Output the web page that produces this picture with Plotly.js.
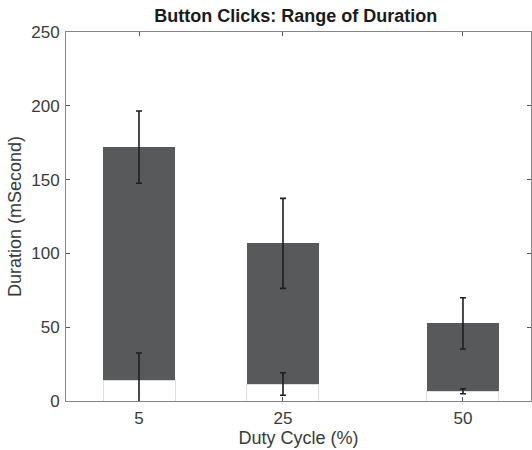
<!DOCTYPE html>
<html>
<head>
<meta charset="utf-8">
<script src="https://cdn.plot.ly/plotly-3.0.1.min.js"></script>
<style>html,body{margin:0;padding:0;background:#fff}#chart{width:532px;height:450px}</style>
</head>
<body>
<div id="chart"></div>
<script>
const dutyCycle = [5, 25, 50];
const minDuration = [14.2, 11.5, 6.6];
const maxDuration = [172, 106.8, 52.6];
const minErr = [18.3, 7.6, 1.7];
const maxErr = [24.5, 30.5, 17.4];
const rangeDuration = maxDuration.map((v, i) => v - minDuration[i]);

const FONT = 'Liberation Sans, Arial, Helvetica, sans-serif';
const errStyle = {color: '#1e1e1e', thickness: 1.6, width: 3};

const traces = [
  {
    type: 'bar', x: dutyCycle, y: minDuration, width: 10,
    marker: {color: '#ffffff', line: {color: '#dddddd', width: 1}},
    hoverinfo: 'skip', showlegend: false
  },
  {
    type: 'bar', x: dutyCycle, y: rangeDuration, width: 10,
    marker: {color: '#58595b', line: {color: '#58595b', width: 0}},
    hoverinfo: 'skip', showlegend: false
  },
  {
    type: 'scatter', mode: 'markers', x: dutyCycle, y: minDuration,
    marker: {size: 1, opacity: 0},
    error_y: Object.assign({type: 'data', array: minErr, visible: true}, errStyle),
    hoverinfo: 'skip', showlegend: false, cliponaxis: true
  },
  {
    type: 'scatter', mode: 'markers', x: dutyCycle, y: maxDuration,
    marker: {size: 1, opacity: 0},
    error_y: Object.assign({type: 'data', array: maxErr, visible: true}, errStyle),
    hoverinfo: 'skip', showlegend: false, cliponaxis: true
  }
];

const axisCommon = {
  showline: true, linecolor: '#868686', linewidth: 1,
  mirror: 'ticks', ticks: 'inside', ticklen: 4, tickcolor: '#555',
  showgrid: false, zeroline: false,
  tickfont: {family: FONT, size: 17, color: '#3a3a3a'}
};

const layout = {
  width: 532, height: 450,
  margin: {l: 66, r: 1, t: 32, b: 49},
  paper_bgcolor: '#fff', plot_bgcolor: '#fff',
  barmode: 'stack',
  title: {
    text: 'Button Clicks: Range of Duration',
    font: {family: FONT, size: 18, color: '#1a1a1a', weight: 'bold'},
    x: 0.556, xanchor: 'center', y: 0.966, yanchor: 'middle'
  },
  xaxis: Object.assign({}, axisCommon, {
    range: [-5.14, 59.45],
    tickvals: dutyCycle, ticktext: dutyCycle.map(String),
    ticklabelstandoff: 2,
    title: {text: 'Duty Cycle (%)', standoff: 3,
      font: {family: FONT, size: 18, color: '#3a3a3a'}}
  }),
  yaxis: Object.assign({}, axisCommon, {
    range: [0, 250], tickvals: [0, 50, 100, 150, 200, 250],
    ticklabelstandoff: 2,
    title: {text: 'Duration (mSecond)', standoff: 4,
      font: {family: FONT, size: 18, color: '#3a3a3a'}}
  })
};

Plotly.newPlot('chart', traces, layout, {staticPlot: true, displayModeBar: false});
</script>
</body>
</html>
